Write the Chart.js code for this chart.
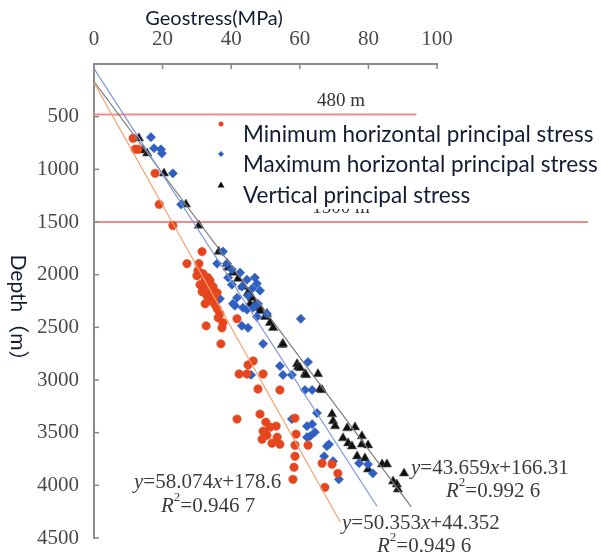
<!DOCTYPE html>
<html>
<head>
<meta charset="utf-8">
<script src="https://cdn.jsdelivr.net/npm/chart.js@4.4.1/dist/chart.umd.min.js"></script>
<style>
  html, body { margin: 0; padding: 0; background: #fff; }
</style>
</head>
<body>
<canvas id="myChart" width="601" height="559"></canvas>
<script>
// measured stresses (MPa) and depths (m)
const minStress = [11.4, 12.0, 12.8, 17.8, 19.0, 23.0, 31.5, 27.1, 30.6, 30.3, 31.8, 30.0, 33.2, 32.4, 33.8, 30.9, 32.7, 34.7, 33.8, 31.5, 35.9, 32.9, 35.0, 33.8, 32.4, 35.3, 35.9, 36.7, 36.2, 37.6, 32.7, 37.3, 37.0, 41.7, 44.9, 46.4, 42.3, 44.6, 49.3, 47.8, 54.2, 41.7, 48.4, 50.1, 53.1, 51.3, 49.3, 50.4, 53.4, 49.0, 51.9, 54.2, 58.6, 58.9, 58.6, 62.4, 58.6, 58.3, 58.0, 66.5, 69.4, 71.1, 67.3];
const minDepth = [705, 810, 810, 1038, 1333, 1533, 1781, 1895, 1895, 1962, 1990, 2010, 2029, 2048, 2057, 2095, 2114, 2114, 2152, 2162, 2171, 2200, 2219, 2248, 2276, 2286, 2324, 2371, 2410, 2457, 2486, 2505, 2657, 2419, 2857, 2819, 2943, 2943, 2943, 3086, 3095, 3371, 3324, 3400, 3438, 3448, 3486, 3524, 3543, 3562, 3600, 3610, 3362, 3514, 3619, 3619, 3724, 3829, 3943, 3790, 3800, 3886, 4019];

const maxStress = [16.6, 17.5, 19.5, 19.8, 23.0, 25.4, 37.6, 35.9, 38.8, 40.2, 39.1, 42.6, 44.6, 46.9, 40.2, 43.1, 47.5, 46.1, 48.4, 41.7, 44.9, 36.7, 41.1, 44.6, 46.4, 47.5, 50.4, 60.3, 43.1, 44.9, 49.3, 45.8, 54.2, 55.1, 57.7, 62.4, 61.5, 63.6, 65.0, 57.7, 62.1, 63.6, 64.4, 62.1, 67.9, 67.1, 68.5, 69.7, 71.4, 77.3, 79.9, 81.3, 63.0, 40.5, 43.4, 47.8];
const maxDepth = [695, 800, 810, 848, 1038, 1333, 1781, 1895, 1895, 1952, 2029, 1981, 2048, 2029, 2095, 2114, 2086, 2133, 2152, 2219, 2200, 2229, 2295, 2333, 2314, 2400, 2371, 2419, 2486, 2505, 2657, 2952, 2867, 2952, 2952, 2829, 3095, 3095, 3314, 3371, 3438, 3419, 3495, 3543, 3629, 3724, 3610, 3771, 3943, 3790, 3800, 3886, 3533, 2276, 2314, 2276];

const vertStress = [13.1, 14.3, 15.5, 20.4, 26.8, 30.6, 36.4, 38.8, 39.1, 40.5, 42.0, 43.4, 44.9, 45.5, 46.1, 46.9, 48.4, 48.4, 49.9, 50.4, 51.3, 52.2, 54.8, 55.1, 59.2, 59.5, 60.1, 61.5, 61.8, 65.3, 65.9, 66.5, 69.4, 69.7, 70.3, 73.8, 76.1, 72.6, 74.1, 75.2, 78.1, 78.1, 79.9, 76.7, 79.0, 79.9, 84.0, 85.4, 87.2, 88.3, 88.6, 90.4];
const vertDepth = [705, 819, 848, 1038, 1333, 1533, 1781, 1895, 1933, 1981, 2038, 2114, 2171, 2276, 2219, 2286, 2314, 2343, 2400, 2371, 2457, 2505, 2667, 2657, 2848, 2876, 2886, 2943, 2952, 2943, 3086, 3095, 3324, 3390, 3438, 3457, 3448, 3552, 3600, 3629, 3533, 3610, 3619, 3724, 3743, 3848, 3800, 3800, 3962, 3990, 4038, 3886];

const seriesNames = ["Minimum horizontal principal stress", "Maximum horizontal principal stress", "Vertical principal stress"];

// linear fits: depth = slope * stress + intercept
const fitSlope = [58.074, 50.353, 43.659];
const fitIntercept = [178.6, 44.352, 166.31];
const fitR2 = ["0.946 7", "0.949 6", "0.992 6"];
const fitMaxStress = [71.8, 82.5, 92.5];

// marker depths
const markDepth = [480, 1500];
const markLabel = ["480 m", "1500 m"];
const markMaxStress = [94, 144];

const xTicks = [0, 20, 40, 60, 80, 100];
const yTicks = [500, 1000, 1500, 2000, 2500, 3000, 3500, 4000, 4500];

const colores = ["#e6461e", "#2f5fc0", "#111111"];
const coloresAjuste = ["#f3a06e", "#7d95da", "#7c7c7c"];
const estilos = ["circle", "rectRot", "triangle"];
const radios = [4.2, 4.6, 5.4];

function puntos(xs, ys) {
    return xs.map((x, i) => ({ x: x, y: ys[i] }));
}

function recta(i) {
    return [0, fitMaxStress[i]].map(x => ({ x: x, y: fitSlope[i] * x + fitIntercept[i] }));
}

const series = [puntos(minStress, minDepth), puntos(maxStress, maxDepth), puntos(vertStress, vertDepth)];

const datasets = [];
series.forEach((data, i) => {
    datasets.push({
        type: "scatter",
        label: seriesNames[i],
        data: data,
        pointStyle: estilos[i],
        pointRadius: radios[i],
        pointBackgroundColor: colores[i],
        pointBorderColor: i === 2 ? "#555" : colores[i],
        pointBorderWidth: 0.6,
        order: 2
    });
});
[0, 1, 2].forEach(i => {
    datasets.push({
        type: "line",
        label: "fit" + i,
        data: recta(i),
        borderColor: coloresAjuste[i],
        borderWidth: 1.2,
        pointRadius: 0,
        fill: false,
        order: 1
    });
});

// texto con partes en cursiva (y, x, R)
function textoMixto(ctx, partes, x, y, size) {
    let cx = x;
    for (const p of partes) {
        const it = p.i ? "italic " : "";
        const sz = p.sup ? size * 0.62 : size;
        ctx.font = it + sz + "px 'Liberation Serif', serif";
        ctx.fillText(p.t, cx, p.sup ? y - size * 0.38 : y);
        cx += ctx.measureText(p.t).width;
    }
}

function ecuacion(ctx, i, x, y, rx, ry) {
    const m = fitSlope[i].toFixed(3);
    const b = String(fitIntercept[i]);
    textoMixto(ctx, [{ t: "y", i: true }, { t: "=" + m }, { t: "x", i: true }, { t: "+" + b }], x, y, 21);
    textoMixto(ctx, [{ t: "R", i: true }, { t: "2", sup: true }, { t: "=" + fitR2[i] }], rx, ry, 21);
}

const decorado = {
    id: "decorado",
    beforeDatasetsDraw(chart) {
        const ctx = chart.ctx;
        const xs = chart.scales.x, ys = chart.scales.y;
        ctx.save();
        // lineas de profundidad
        markDepth.forEach((d, i) => {
            const py = ys.getPixelForValue(d);
            ctx.strokeStyle = "#f08c8c";
            ctx.lineWidth = 2;
            ctx.beginPath();
            ctx.moveTo(xs.getPixelForValue(0), py);
            ctx.lineTo(xs.getPixelForValue(markMaxStress[i]), py);
            ctx.stroke();
            ctx.fillStyle = "#333";
            ctx.font = "19px 'Liberation Serif', serif";
            ctx.textAlign = "center";
            ctx.textBaseline = "alphabetic";
            ctx.fillText(markLabel[i], 341, py - 9);
        });
        ctx.restore();
    },
    afterDraw(chart) {
        const ctx = chart.ctx;
        const xs = chart.scales.x, ys = chart.scales.y;
        const area = chart.chartArea;
        ctx.save();

        // marcas de los ejes hacia dentro
        ctx.strokeStyle = "#888";
        ctx.lineWidth = 1.5;
        xs.ticks.forEach(t => {
            if (t.value === 0) return;
            const px = xs.getPixelForValue(t.value);
            ctx.beginPath();
            ctx.moveTo(px, area.top);
            ctx.lineTo(px, area.top + 5);
            ctx.stroke();
        });
        ys.ticks.forEach(t => {
            if (t.value === 0) return;
            const py = ys.getPixelForValue(t.value);
            ctx.beginPath();
            ctx.moveTo(area.left, py);
            ctx.lineTo(area.left + 5, py);
            ctx.stroke();
        });

        // leyenda
        ctx.fillStyle = "#fff";
        ctx.fillRect(206, 116, 395, 93);
        ctx.font = "22.5px Lato, 'Noto Sans', sans-serif";
        ctx.textAlign = "left";
        ctx.textBaseline = "middle";
        const filas = [135, 165, 196];
        seriesNames.forEach((n, i) => {
            const mx = 221, my = filas[i] - 11;
            ctx.fillStyle = colores[i];
            ctx.beginPath();
            if (i === 0) {
                ctx.arc(mx, my, 2.5, 0, Math.PI * 2);
            } else if (i === 1) {
                ctx.moveTo(mx, my - 3); ctx.lineTo(mx + 3, my); ctx.lineTo(mx, my + 3); ctx.lineTo(mx - 3, my);
            } else {
                ctx.moveTo(mx, my - 3.5); ctx.lineTo(mx + 3.5, my + 2.5); ctx.lineTo(mx - 3.5, my + 2.5);
            }
            ctx.closePath();
            ctx.fill();
            ctx.fillStyle = "#141c33";
            ctx.fillText(n, 243, filas[i]);
        });

        // titulos de ejes
        ctx.fillStyle = "#141c33";
        ctx.textAlign = "center";
        ctx.font = "20px Lato, 'Noto Sans', sans-serif";
        ctx.fillText("Geostress(MPa)", 214, 19);
        ctx.save();
        ctx.translate(18, 313);
        ctx.rotate(Math.PI / 2);
        ctx.font = "21px Lato, 'Noto Sans CJK SC', sans-serif";
        ctx.fillText("Depth（m）", 0, 0);
        ctx.restore();

        // ecuaciones de ajuste
        ctx.fillStyle = "#3c3c3c";
        ctx.textAlign = "left";
        ctx.textBaseline = "middle";
        ecuacion(ctx, 0, 134, 482, 161, 506);
        ecuacion(ctx, 2, 411, 468, 446, 491);
        ecuacion(ctx, 1, 342, 523, 377, 546);

        ctx.restore();
    }
};

const grafica = document.getElementById("myChart").getContext("2d");

const myChart = new Chart(grafica, {
    data: { datasets: datasets },
    options: {
        responsive: false,
        animation: false,
        layout: { padding: { left: 0, top: 0, right: 164, bottom: 21 } },
        plugins: {
            legend: { display: false },
            tooltip: { enabled: false }
        },
        scales: {
            x: {
                type: "linear",
                position: "top",
                min: xTicks[0],
                max: xTicks[xTicks.length - 1],
                afterBuildTicks: s => { s.ticks = xTicks.map(v => ({ value: v })); },
                afterFit: s => { s.height = 64; },
                grid: { display: false },
                border: { display: true, color: "#8c8c8c", width: 2 },
                ticks: {
                    color: "#4a4a4a",
                    padding: 4,
                    font: { family: "'Liberation Serif', serif", size: 21 }
                }
            },
            y: {
                type: "linear",
                reverse: true,
                min: 0,
                max: yTicks[yTicks.length - 1],
                afterBuildTicks: s => { s.ticks = [0].concat(yTicks).map(v => ({ value: v })); },
                afterFit: s => { s.width = 94; },
                grid: { display: false },
                border: { display: true, color: "#8c8c8c", width: 2 },
                ticks: {
                    color: "#4a4a4a",
                    padding: 7,
                    font: { family: "'Liberation Serif', serif", size: 21 },
                    callback: v => (v === 0 ? "" : v)
                }
            }
        }
    },
    plugins: [decorado]
});
</script>
</body>
</html>
